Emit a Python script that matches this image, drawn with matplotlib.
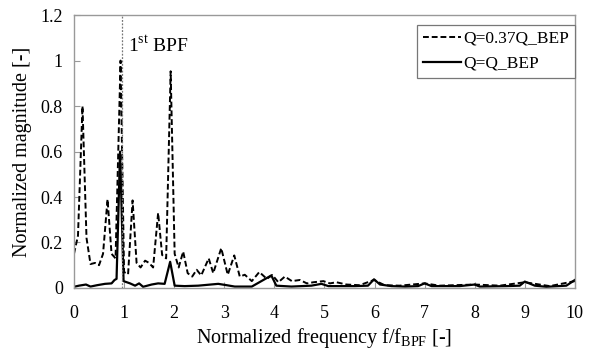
import matplotlib

matplotlib.use("Agg")
import matplotlib.pyplot as plt

plt.rcParams["font.family"] = ["Liberation Serif", "DejaVu Serif"]
plt.rcParams["mathtext.fontset"] = "custom"
plt.rcParams["mathtext.rm"] = "Liberation Serif"

# Q = 0.37 Q_BEP (dashed)
low_x = [0.0, 0.08, 0.17, 0.25, 0.33, 0.42, 0.50, 0.58, 0.67, 0.75, 0.83, 0.93,
         1.00, 1.08, 1.17, 1.25, 1.33, 1.42, 1.50, 1.58, 1.68, 1.76, 1.84, 1.93,
         2.01, 2.09, 2.18, 2.27, 2.36, 2.45, 2.54, 2.69, 2.78, 2.94, 3.07, 3.20,
         3.31, 3.41, 3.55, 3.70, 3.85, 3.96, 4.08, 4.21, 4.35, 4.51, 4.65, 4.78,
         4.98, 5.11, 5.24, 5.44, 5.70, 5.99, 6.20, 6.50, 7.00, 7.30, 8.00, 8.50,
         9.00, 9.50, 10.0]
low_y = [0.15, 0.23, 0.80, 0.22, 0.105, 0.11, 0.10, 0.15, 0.39, 0.15, 0.13, 1.00,
         0.07, 0.06, 0.385, 0.11, 0.09, 0.12, 0.11, 0.09, 0.33, 0.145, 0.13, 0.953,
         0.15, 0.09, 0.16, 0.065, 0.05, 0.08, 0.055, 0.13, 0.065, 0.175, 0.058, 0.143,
         0.05, 0.058, 0.03, 0.07, 0.04, 0.057, 0.025, 0.05, 0.03, 0.035, 0.02, 0.025,
         0.03, 0.02, 0.025, 0.015, 0.012, 0.035, 0.012, 0.01, 0.02, 0.01, 0.015, 0.01,
         0.025, 0.008, 0.03]

# Q = Q_BEP (solid)
bep_x = [0.0, 0.10, 0.24, 0.33, 0.46, 0.62, 0.75, 0.81, 0.85, 0.92, 0.99, 1.12,
         1.22, 1.30, 1.38, 1.55, 1.68, 1.81, 1.92, 2.01, 2.21, 2.48, 2.88, 3.05,
         3.21, 3.55, 3.94, 4.04, 4.34, 4.74, 4.94, 5.08, 5.61, 5.87, 5.99, 6.11,
         6.34, 6.61, 6.87, 7.00, 7.14, 7.70, 8.00, 8.10, 8.64, 8.90, 9.00, 9.20,
         9.43, 9.83, 10.0]
bep_y = [0.005, 0.01, 0.015, 0.006, 0.012, 0.018, 0.02, 0.035, 0.04, 0.60, 0.03, 0.02,
         0.01, 0.02, 0.005, 0.015, 0.02, 0.018, 0.115, 0.01, 0.008, 0.01, 0.018, 0.012,
         0.006, 0.006, 0.055, 0.01, 0.006, 0.01, 0.018, 0.008, 0.008, 0.01, 0.038, 0.015,
         0.008, 0.006, 0.008, 0.02, 0.008, 0.008, 0.015, 0.006, 0.008, 0.01, 0.028, 0.01,
         0.005, 0.01, 0.035]

bpf_x = 0.95

fig = plt.figure(figsize=(5.89, 3.52), dpi=100)
ax = fig.add_axes([0.1256, 0.182, 0.8504, 0.775])

ax.plot(low_x, low_y, color="black", lw=1.4, linestyle=(0, (3, 1.5)), label="Q=0.37Q_BEP")
ax.plot(bep_x, bep_y, color="black", lw=1.6, label="Q=Q_BEP")
ax.axvline(bpf_x, color="#777777", lw=0.9, linestyle=(0, (1.5, 1.2)))
ax.text(1.07, 1.07, r"$1^{\mathrm{st}}$ BPF", fontsize=14, va="center", ha="left")

ax.set_xlim(0, 10)
ax.set_ylim(0, 1.2)
ax.set_xticks(range(0, 11))
ax.set_yticks([0, 0.2, 0.4, 0.6, 0.8, 1, 1.2])
ax.set_yticklabels(["0", "0.2", "0.4", "0.6", "0.8", "1", "1.2"])
ax.tick_params(direction="in", length=4, color="#999999", labelsize=13)
ax.tick_params(axis="x", pad=12)
ax.tick_params(axis="y", pad=8)
for s in ax.spines.values():
    s.set_color("#999999")
    s.set_linewidth(1.0)

ax.set_xlabel(r"Normalized frequency f/f$_{\mathrm{BPF}}$ [-]", fontsize=14.5, labelpad=3)
ax.set_ylabel("Normalized magnitude [-]", fontsize=14.5, labelpad=6)

leg = ax.legend(loc="upper right", bbox_to_anchor=(1.0, 0.965), fontsize=12.5,
                fancybox=False, framealpha=1, edgecolor="#777777",
                handlelength=2.2, handletextpad=0.1, borderpad=0.35, labelspacing=0.5,
                borderaxespad=0.0)
leg.get_frame().set_linewidth(0.9)

fig.savefig("out.png", dpi=100, facecolor="white")
